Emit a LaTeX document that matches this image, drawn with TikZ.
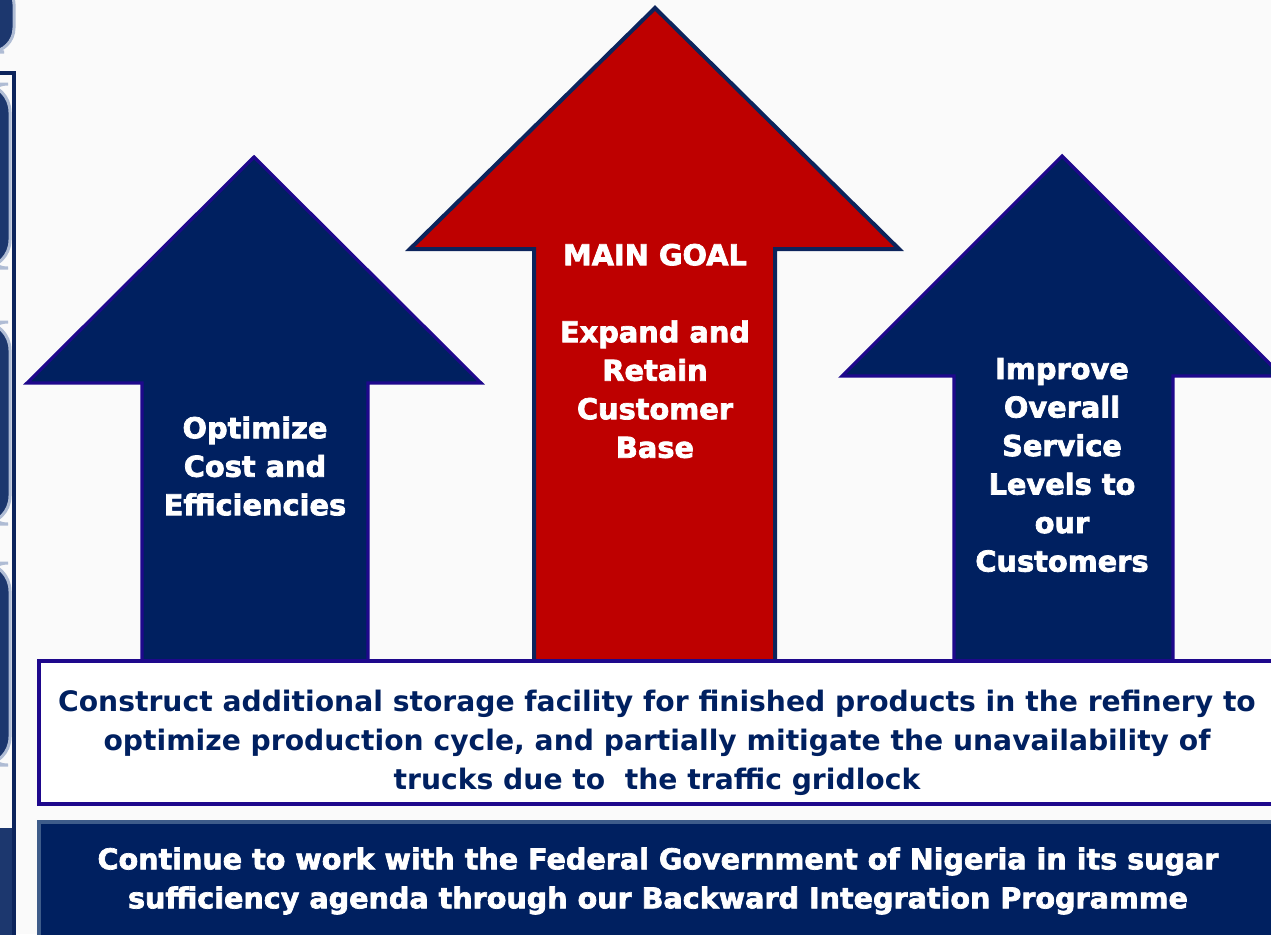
\documentclass[tikz,border=0pt]{standalone}
\usepackage{fontspec}
\setmainfont{DejaVu Sans}
\newfontfamily\heavyfont{DejaVu Sans}[UprightFont={* Bold},UprightFeatures={FakeBold=2.5}]
\definecolor{navyfill}{RGB}{0,32,96}
\definecolor{goalred}{RGB}{190,0,0}
\definecolor{indigoline}{RGB}{30,8,140}
\definecolor{goalline}{RGB}{12,36,92}
\definecolor{steelline}{RGB}{62,92,138}
\definecolor{stripnavy}{RGB}{28,55,110}
\definecolor{stripedge}{RGB}{175,188,212}
\tikzset{
  arrowtext/.style={text=white,align=center,font=\heavyfont\fontsize{14.4}{19.25}\selectfont},
  boxtext/.style={align=center,text=navyfill,font=\bfseries\fontsize{14.1}{19.5}\selectfont},
  bartext/.style={align=center,text=white,font=\heavyfont\fontsize{14.3}{19.5}\selectfont},
}
\begin{document}
\begin{tikzpicture}[x=0.5pt,y=-0.5pt,line join=miter]
%%
\useasboundingbox (0,0) rectangle (1271,934);
\clip (0,0) rectangle (1271,934);
\fill [white!98!black] (0,0) rectangle (1271,934);
% left strip
\draw [stripedge,line width=1.5pt,fill=stripnavy,rounded corners=12] (-20,-20) rectangle (14,52);
\fill [stripnavy] (0,828) rectangle (12,940);
\foreach \ya/\yb in {84/268,322/524,563/765}
  \draw [stripedge,line width=1.5pt,fill=stripnavy,rounded corners=14] (-20,\ya) rectangle (10,\yb);
\draw [goalline,line width=2pt] (-5,73) -- (14,73) -- (14,940);
% arrows
\draw [indigoline,line width=1.6pt,fill=navyfill] (254,157) -- (481,383) -- (368,383) -- (368,665)
  -- (142,665) -- (142,383) -- (27,383) -- cycle;
\draw [indigoline,line width=1.6pt,fill=navyfill] (1062,156) -- (1282,376) -- (1173,376) -- (1173,665)
  -- (954,665) -- (954,376) -- (842,376) -- cycle;
\draw [goalline,line width=2pt,fill=goalred] (655,8) -- (899,249) -- (775,249) -- (775,665)
  -- (534,665) -- (534,249) -- (410,249) -- cycle;
\node (node_cost) at (255,466) [arrowtext] {Optimize\\Cost and\\Efficiencies};
\node (node_goal) at (655,351) [arrowtext] {MAIN GOAL\\[19.25pt]Expand and\\Retain\\Customer\\Base};
\node (node_service) at (1062,465) [arrowtext] {Improve\\Overall\\Service\\Levels to\\our\\Customers};
% boxes
\draw [indigoline,line width=2pt,fill=white] (39,661) rectangle (1290,804);
\node (node_storage) at (657,743) [boxtext] {Construct additional storage facility for finished products in the refinery to\\optimize production cycle, and partially mitigate the unavailability of\\trucks due to\ \ the traffic gridlock};
\draw [steelline,line width=1.6pt,fill=navyfill] (39,822) rectangle (1290,950);
\node (node_sugar) at (658,881) [bartext] {Continue to work with the Federal Government of Nigeria in its sugar\\sufficiency agenda through our Backward Integration Programme};
%
\end{tikzpicture}
\end{document}
